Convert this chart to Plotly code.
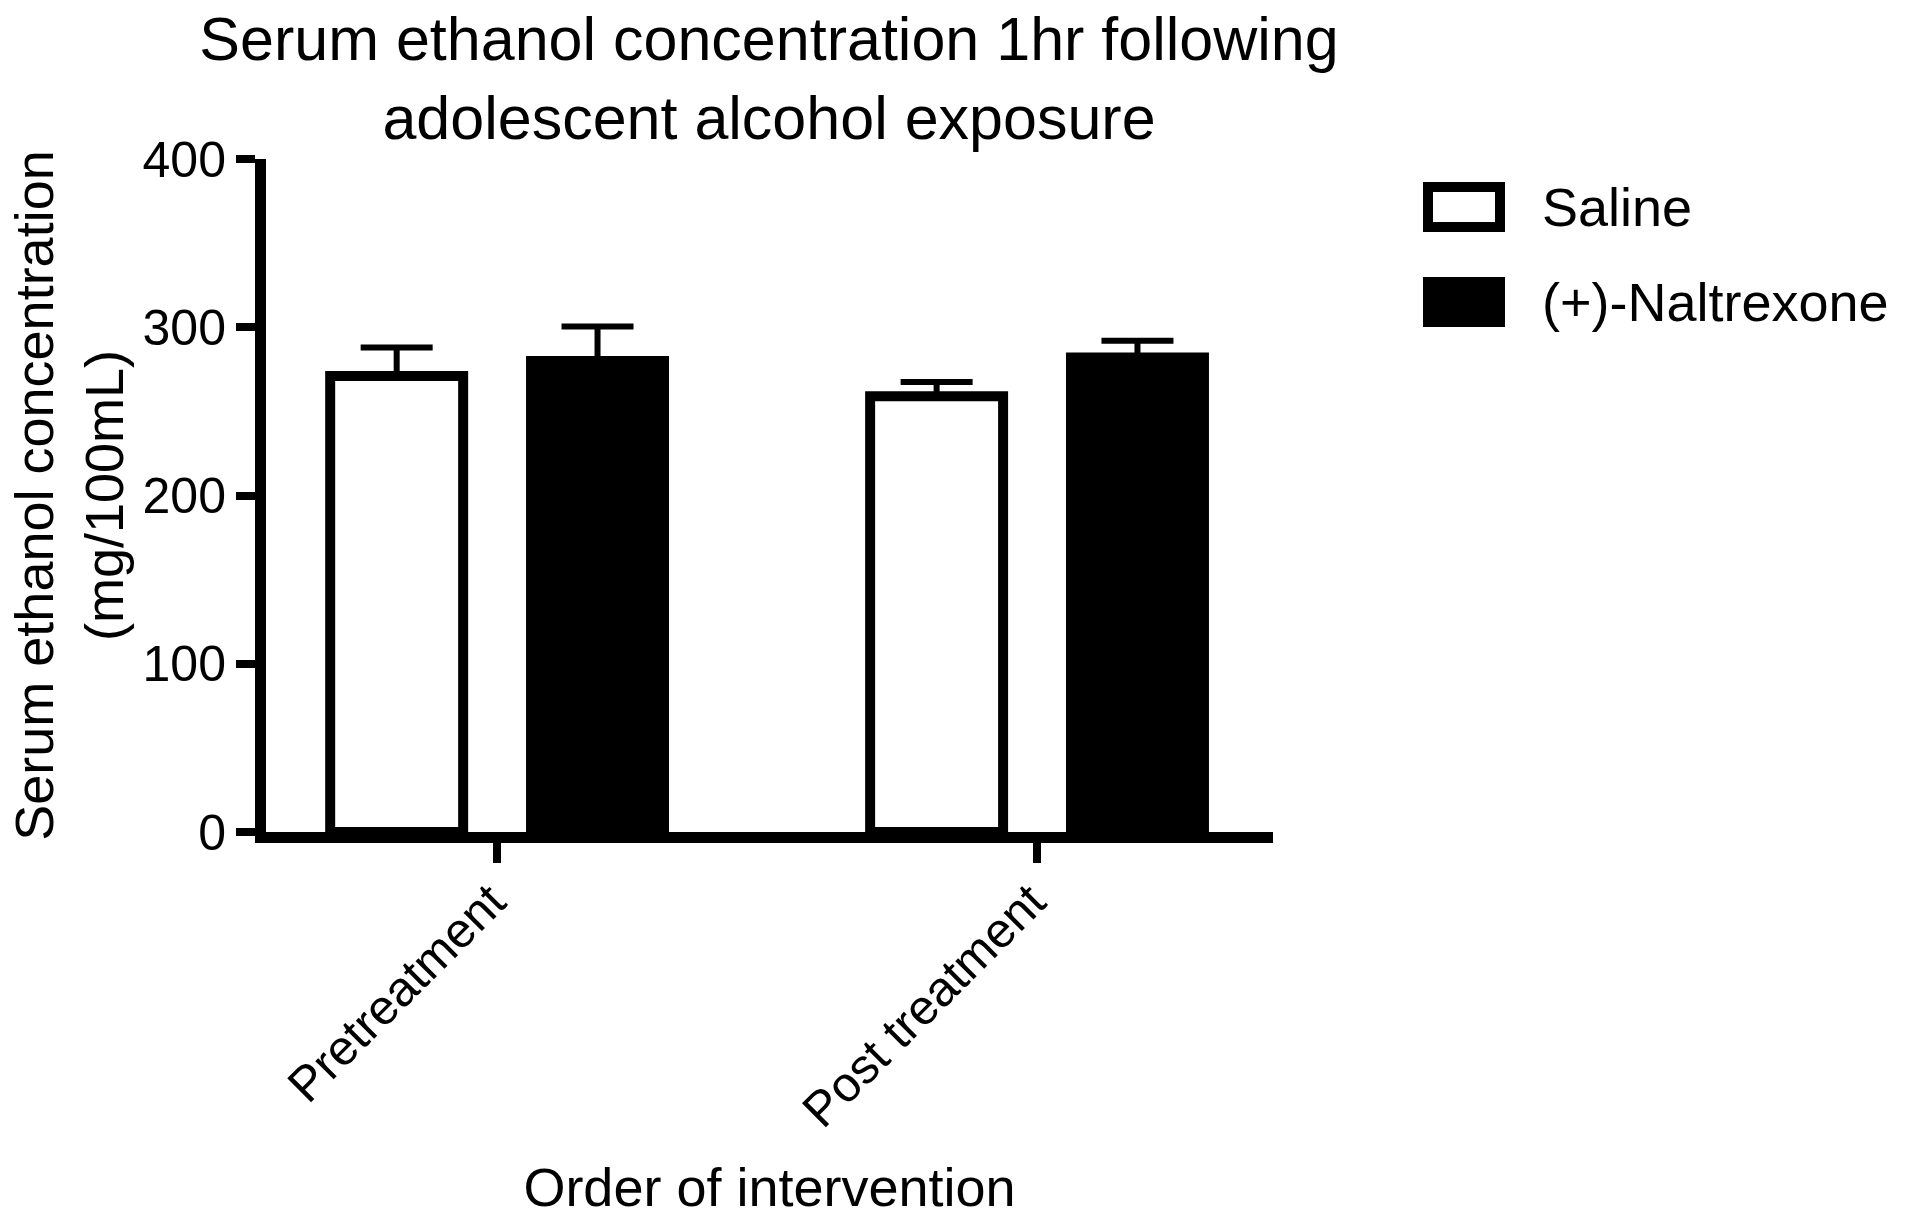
import plotly.graph_objects as go

# ---- data ----
categories = ["Pretreatment", "Post treatment"]
series_names = ["Saline", "(+)-Naltrexone"]
saline_mean = [271, 259]
saline_sem = [17, 8.5]
naltrexone_mean = [280, 282]
naltrexone_sem = [20.5, 10]
y_ticks = [0, 100, 200, 300, 400]

FONT = "Liberation Sans, Arial, Helvetica, sans-serif"
W, H = 1912, 1217
L, R, T, B = 266, 639, 159, 385

fig = go.Figure()

fig.add_trace(go.Bar(
    name=series_names[0], x=categories, y=saline_mean,
    marker=dict(color="white", line=dict(color="black", width=10)),
    error_y=dict(type="data", symmetric=False, array=saline_sem,
                 arrayminus=[0] * len(saline_sem),
                 color="black", thickness=6, width=36),
    showlegend=False,
))
fig.add_trace(go.Bar(
    name=series_names[1], x=categories, y=naltrexone_mean,
    marker=dict(color="black", line=dict(color="black", width=10)),
    error_y=dict(type="data", symmetric=False, array=naltrexone_sem,
                 arrayminus=[0] * len(naltrexone_sem),
                 color="black", thickness=6, width=36),
    showlegend=False,
))

# custom legend: large swatches next to series names
plot_w = W - L - R
plot_h = H - T - B


def px_x(x):
    return (x - L) / plot_w


def px_y(y):
    return (H - B - y) / plot_h


legend_rows = [(207, "white"), (302, "black")]
for (cy, fill), name in zip(legend_rows, series_names):
    fig.add_shape(type="rect", xref="paper", yref="paper",
                  x0=px_x(1428), x1=px_x(1500),
                  y0=px_y(cy - 20), y1=px_y(cy + 20),
                  line=dict(color="black", width=10), fillcolor=fill)
    fig.add_annotation(xref="paper", yref="paper",
                       x=px_x(1540), y=px_y(cy),
                       xanchor="left", yanchor="middle",
                       text=name, showarrow=False,
                       font=dict(family=FONT, size=54, color="black"))

fig.update_layout(
    width=W, height=H, autosize=False,
    margin=dict(l=L, r=R, t=T, b=B, pad=0),
    paper_bgcolor="white", plot_bgcolor="white",
    barmode="group", bargap=0.256, bargroupgap=0.338,
    font=dict(family=FONT, color="black"),
    title=dict(
        text="Serum ethanol concentration 1hr following<br>adolescent alcohol exposure",
        font=dict(family=FONT, size=61, color="black"),
        x=px_x(769), xanchor="center", xref="paper",
        y=0.951, yanchor="top", yref="container",
    ),
    xaxis=dict(
        range=[-0.428, 1.437], automargin=False,
        showline=True, linecolor="black", linewidth=11,
        ticks="outside", ticklen=20, tickwidth=8, tickcolor="black",
        tickangle=-45, tickfont=dict(family=FONT, size=49, color="black"),
        ticklabelstandoff=-10, ticklabelshift=-6,
        showgrid=False, zeroline=False,
        title=dict(text="Order of intervention",
                   font=dict(family=FONT, size=54, color="black"),
                   standoff=56),
    ),
    yaxis=dict(
        range=[0, 400], tickvals=y_ticks, automargin=False,
        showline=True, linecolor="black", linewidth=11,
        ticks="outside", ticklen=19, tickwidth=8, tickcolor="black",
        tickfont=dict(family=FONT, size=50, color="black"),
        showgrid=False, zeroline=False,
        title=dict(text="Serum ethanol concentration<br>(mg/100mL)",
                   font=dict(family=FONT, size=54, color="black"),
                   standoff=6),
    ),
)

fig.write_html("out.html")
